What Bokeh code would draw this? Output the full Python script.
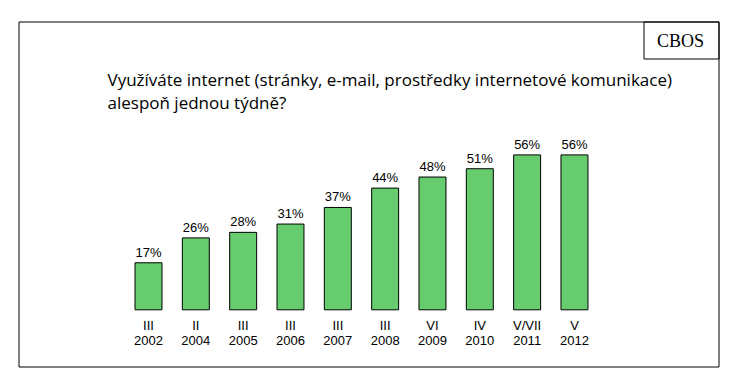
from bokeh.plotting import figure
from bokeh.models import Range1d, ColumnDataSource
from bokeh.core.properties import value
from bokeh.embed import file_html
from bokeh.resources import INLINE

# ---- data ----
months = ["III", "II", "III", "III", "III", "III", "VI", "IV", "V/VII", "V"]
years = ["2002", "2004", "2005", "2006", "2007", "2008", "2009", "2010", "2011", "2012"]
values = [17, 26, 28, 31, 37, 44, 48, 51, 56, 56]
title_lines = ["Využíváte internet (stránky, e-mail, prostředky internetové komunikace)",
               "alespoň jednou týdně?"]
source_label = "CBOS"

W, H = 740, 371
OFF = 0
X0, XU = 148.0, 47.33      # canvas px of x=0, px per category
Y0, YU = 309.3, 2.766      # canvas px of y=0 (from top), px per percent
xs = -X0 / XU
xe = xs + W / XU
ye = Y0 / YU
ys = ye - H / YU

def px(xpage):
    return xs + (xpage - OFF) / XU

def py(ypage):
    return ye - (ypage - OFF) / YU

p = figure(width=W, height=H, x_range=Range1d(xs, xe), y_range=Range1d(ys, ye),
           toolbar_location=None, output_backend="svg", min_border=0)
p.axis.visible = False
p.grid.visible = False
p.outline_line_color = None
p.background_fill_color = "white"
p.border_fill_color = "white"

idx = list(range(len(values)))
src = ColumnDataSource(dict(x=idx, top=values, lab=[f"{v}%" for v in values],
                            m=months, yr=years))

# outer frame and CBOS box
p.quad(left=[px(18.5)], right=[px(718.5)], top=[py(21.5)], bottom=[py(366.5)],
       fill_color=None, line_color="black", line_width=1)
p.quad(left=[px(643.5)], right=[px(718.5)], top=[py(21.5)], bottom=[py(58.5)],
       fill_color=None, line_color="black", line_width=1)
p.text(x=[px(680)], y=[py(40)], text=[source_label], text_font=value("Liberation Serif"),
       text_font_size="18px", text_align="center", text_baseline="middle", text_color="black")

# title
p.text(x=[px(107), px(107)], y=[py(79), py(102)], text=title_lines,
       text_font=value("Open Sans"), text_font_size="17px", text_align="left",
       text_baseline="middle", text_color="black")

# bars
p.vbar(x="x", top="top", bottom=0, width=0.57, source=src,
       fill_color="#66CC6E", line_color="black", line_width=1)

# value labels
p.text(x="x", y="top", text="lab", source=src, text_font=value("Liberation Sans"),
       text_font_size="13px", text_align="center", text_baseline="bottom",
       y_offset=-3, text_color="black")

# category labels
p.text(x="x", y=0, text="m", source=src, text_font=value("Liberation Sans"),
       text_font_size="13px", text_align="center", text_baseline="middle",
       y_offset=16, text_color="black")
p.text(x="x", y=0, text="yr", source=src, text_font=value("Liberation Sans"),
       text_font_size="13px", text_align="center", text_baseline="middle",
       y_offset=31, text_color="black")

open("out.html", "w").write(file_html(p, INLINE))
